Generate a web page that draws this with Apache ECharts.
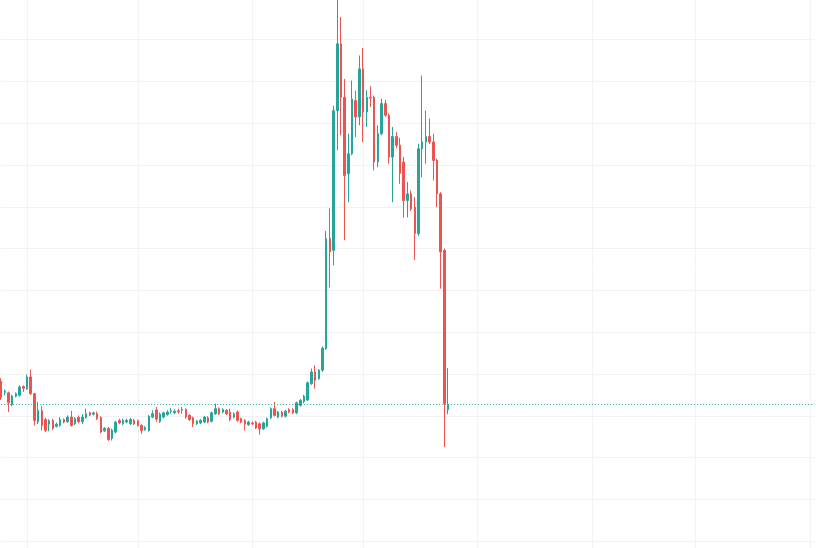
<!DOCTYPE html>
<html lang="en">

<head>
  <meta charset="UTF-8">
  <script src="https://cdn.jsdelivr.net/npm/echarts@6.0.0/dist/echarts.min.js"></script>
  <title>Candles</title>
  <style>
    html,
    body {
      margin: 0;
      padding: 0;
      width: 816px;
      height: 548px;
      overflow: hidden;
      background: #fff;
    }

    /* taller than the window so the edge grid lines fall outside it */
    #chart {
      position: absolute;
      left: 0;
      top: -44px;
      width: 816px;
      height: 627px;
    }
  </style>
</head>

<body>
  <div id="chart"></div>
</body>
<script>
  // daily candles, first one on 2021-08-25; the time scale runs on past the last candle
  const firstDay = '2021-08-25'
  const lastDay = '2022-04-02'

  const openPrices = [
    38.3, 35.6, 35.5, 32.7, 34.7, 34.9, 37.0, 36.5, 39.3, 35.3,
    28.5, 31.2, 29.1, 28.0, 28.9, 27.5, 27.7, 29.1, 28.6, 29.7,
    28.1, 29.6, 28.6, 29.6, 30.7, 30.4, 30.5, 29.6, 26.4, 27.0,
    24.6, 26.1, 28.9, 28.1, 28.5, 28.1, 28.9, 28.8, 27.7, 26.7,
    26.5, 29.7, 31.4, 28.6, 29.7, 30.3, 31.1, 30.7, 31.2, 31.3,
    31.5, 30.1, 29.5, 28.1, 28.3, 28.5, 29.5, 28.7, 30.5, 31.7,
    30.9, 31.3, 30.9, 29.7, 30.9, 29.3, 28.9, 27.9, 28.3, 28.5,
    28.1, 26.9, 27.5, 29.5, 31.7, 29.7, 30.9, 29.9, 31.5, 31.5,
    30.7, 32.5, 33.4, 33.8, 37.7, 40.5, 38.9, 40.9, 46.1, 72.4,
    69.6, 103.0, 119.0, 106.2, 87.9, 92.7, 105.4, 101.5, 113.0, 102.7,
    106.2, 106.2, 90.7, 97.5, 104.7, 101.9, 91.9, 96.8, 94.7, 90.7,
    81.5, 83.1, 79.9, 73.6, 93.9, 95.5, 96.8, 95.5, 91.1, 83.1,
    69.6, 31.5
  ]
  const closePrices = [
    34.3, 35.9, 33.1, 34.7, 35.3, 36.9, 36.6, 39.3, 35.3, 28.9,
    31.3, 27.7, 26.5, 28.8, 27.0, 28.0, 29.1, 28.5, 29.7, 27.7,
    29.3, 28.6, 29.7, 30.5, 30.2, 30.7, 29.3, 26.1, 27.0, 24.3,
    26.6, 28.5, 28.3, 28.9, 28.9, 29.1, 28.1, 27.7, 26.5, 27.2,
    29.9, 30.5, 29.2, 30.4, 30.7, 30.9, 31.2, 31.1, 31.0, 31.5,
    29.7, 29.1, 28.1, 28.7, 28.9, 29.7, 28.5, 30.7, 31.7, 30.5,
    31.5, 30.5, 29.1, 30.5, 28.9, 28.5, 28.1, 28.5, 28.1, 27.1,
    26.9, 28.3, 29.3, 31.7, 30.1, 30.9, 29.9, 31.1, 30.9, 30.7,
    33.1, 33.7, 34.7, 37.9, 40.5, 38.5, 40.9, 46.2, 72.4, 69.2,
    103.0, 119.0, 106.2, 87.5, 92.7, 105.8, 101.5, 113.0, 102.7, 106.2,
    106.0, 90.7, 97.5, 104.7, 101.9, 91.9, 96.8, 94.7, 88.0, 81.5,
    83.1, 79.5, 73.6, 93.9, 95.5, 96.8, 95.5, 91.1, 83.1, 69.2,
    32.9, 32.7
  ]
  const lowPrices = [
    33.8, 34.9, 30.9, 32.3, 34.4, 34.6, 35.7, 36.2, 35.0, 27.7,
    28.0, 26.5, 26.1, 26.3, 26.6, 27.2, 27.4, 28.2, 28.3, 27.4,
    27.8, 28.2, 28.0, 29.3, 29.9, 30.1, 29.0, 25.8, 26.1, 24.0,
    24.1, 25.8, 28.0, 27.8, 28.2, 27.8, 27.8, 27.4, 25.7, 26.4,
    26.2, 29.4, 28.6, 28.3, 29.4, 30.0, 30.5, 30.4, 30.5, 30.5,
    29.3, 28.8, 27.3, 27.8, 28.0, 28.2, 28.2, 28.4, 30.2, 30.2,
    30.6, 30.2, 28.7, 29.4, 28.6, 28.2, 26.5, 27.6, 27.8, 26.8,
    25.5, 26.6, 27.2, 29.2, 29.8, 29.4, 29.6, 29.6, 30.6, 30.4,
    30.4, 32.2, 33.0, 33.5, 37.4, 36.5, 38.6, 40.5, 45.8, 60.7,
    66.0, 93.5, 97.1, 72.0, 81.1, 92.3, 96.7, 99.5, 95.5, 99.1,
    103.9, 88.7, 89.5, 97.1, 101.5, 90.3, 81.1, 94.0, 85.5, 77.4,
    77.5, 79.0, 67.3, 73.0, 87.1, 90.3, 95.0, 86.3, 79.9, 60.4,
    22.5, 30.4
  ]
  const highPrices = [
    39.0, 36.3, 35.8, 35.0, 35.6, 37.3, 37.3, 39.9, 41.1, 35.5,
    33.3, 32.3, 29.5, 29.2, 29.3, 28.4, 29.7, 29.4, 30.1, 31.2,
    29.7, 30.1, 30.4, 31.7, 31.0, 31.0, 31.0, 29.9, 27.3, 27.3,
    26.9, 28.8, 29.3, 29.3, 29.3, 29.5, 29.3, 29.1, 28.0, 27.5,
    30.2, 31.3, 32.1, 30.8, 31.0, 31.3, 31.9, 31.5, 31.7, 32.1,
    31.8, 30.4, 29.8, 29.0, 29.2, 30.0, 29.9, 31.0, 32.9, 32.0,
    31.8, 31.6, 31.7, 30.8, 31.2, 29.6, 29.2, 28.8, 28.6, 28.8,
    28.4, 28.6, 29.6, 32.0, 33.3, 31.2, 31.2, 31.4, 31.8, 31.8,
    33.4, 34.0, 35.0, 38.2, 41.3, 42.1, 41.2, 46.6, 74.2, 79.6,
    104.2, 131.0, 125.4, 110.6, 97.5, 110.2, 107.8, 116.2, 118.0, 107.9,
    108.8, 106.6, 99.5, 105.9, 105.5, 102.3, 99.1, 97.9, 96.5, 91.9,
    85.9, 83.9, 82.3, 95.1, 111.4, 103.0, 101.1, 97.5, 91.5, 83.5,
    70.0, 41.4
  ]

  const upColor = '#26a69a'
  const downColor = '#ef5350'
  const gridColor = '#f0f2f5'

  function dayList(from, to) {
    const out = []
    const d = new Date(from + 'T00:00:00Z')
    const end = new Date(to + 'T00:00:00Z')
    while (d <= end) {
      out.push(d.toISOString().slice(0, 10))
      d.setUTCDate(d.getUTCDate() + 1)
    }
    return out
  }

  const days = dayList(firstDay, lastDay)
  const candles = openPrices.map((o, i) => [o, closePrices[i], lowPrices[i], highPrices[i]])
  const lastClose = closePrices[closePrices.length - 1]

  const option = {
    animation: false,
    grid: {
      left: 1.15,
      right: 2.3,
      top: 0,
      bottom: 0
    },
    xAxis: {
      type: 'category',
      data: days,
      boundaryGap: false,
      axisLine: { show: false },
      axisTick: { show: false },
      axisLabel: { show: false },
      splitLine: {
        show: true,
        interval: (idx, val) => val.slice(8) === '01',
        lineStyle: { color: gridColor, width: 1 }
      }
    },
    yAxis: {
      type: 'value',
      min: -10,
      max: 140,
      interval: 10,
      axisLine: { show: false },
      axisTick: { show: false },
      axisLabel: { show: false },
      splitLine: {
        show: true,
        lineStyle: { color: gridColor, width: 1 }
      }
    },
    series: [
      {
        type: 'candlestick',
        data: candles,
        barWidth: 2,
        itemStyle: {
          color: upColor,
          color0: downColor,
          borderColor: upColor,
          borderColor0: downColor,
          borderWidth: 1
        },
        markLine: {
          silent: true,
          symbol: 'none',
          label: { show: false },
          lineStyle: { type: [1, 2], color: upColor, width: 1 },
          data: [{ yAxis: lastClose }]
        }
      }
    ]
  }

  const ins = echarts.init(document.getElementById('chart'))
  ins.setOption(option)
</script>

</html>
